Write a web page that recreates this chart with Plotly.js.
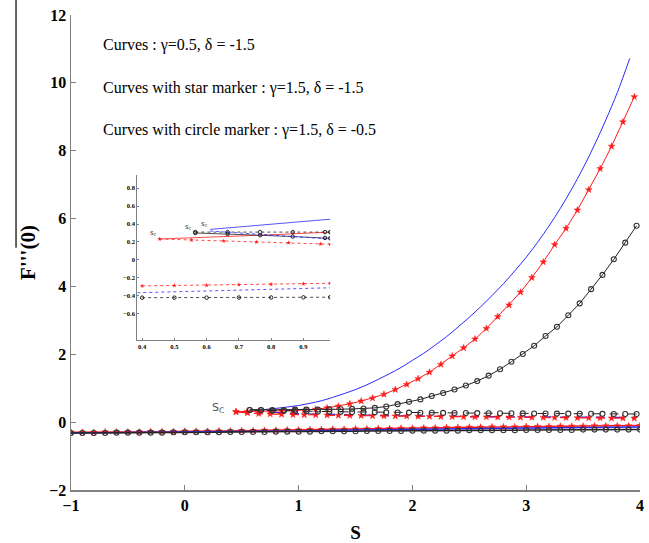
<!DOCTYPE html>
<html>
<head>
<meta charset="utf-8">
<script src="https://cdn.plot.ly/plotly-3.0.1.min.js"></script>
<style>html,body{margin:0;padding:0;background:#fff}</style>
</head>
<body>
<div id="chart" style="width:649px;height:543px"></div>
<script>
// ---------- main chart data ----------
const blueUpperS = [0.61, 0.7, 0.8, 0.9, 1.0, 1.1, 1.2, 1.3, 1.4, 1.5, 1.6, 1.7, 1.8, 1.9, 2.0, 2.1, 2.2, 2.3, 2.4, 2.5, 2.6, 2.7, 2.8, 2.9, 3.0, 3.1, 3.2, 3.3, 3.4, 3.5, 3.6, 3.7, 3.8, 3.91];
const blueUpperF = [0.35, 0.37, 0.405, 0.445, 0.49, 0.555, 0.63, 0.73, 0.84, 0.96, 1.10, 1.26, 1.43, 1.61, 1.82, 2.03, 2.27, 2.52, 2.80, 3.09, 3.40, 3.73, 4.08, 4.46, 4.86, 5.30, 5.78, 6.30, 6.87, 7.49, 8.17, 8.91, 9.71, 10.72];

const blueLowerS = [0.61, 0.8, 1.0, 1.5, 2.0, 2.5, 3.0, 3.5, 3.97];
const blueLowerF = [0.35, 0.29, 0.25, 0.21, 0.18, 0.165, 0.155, 0.145, 0.14];

const redUpperS = [0.45, 0.55, 0.65, 0.75, 0.85, 0.95, 1.05, 1.15, 1.25, 1.35, 1.45, 1.55, 1.65, 1.75, 1.85, 1.95, 2.05, 2.15, 2.25, 2.35, 2.45, 2.55, 2.65, 2.75, 2.85, 2.95, 3.05, 3.15, 3.25, 3.35, 3.45, 3.55, 3.65, 3.75, 3.85, 3.95];
const redUpperF = [0.31, 0.31, 0.32, 0.32, 0.33, 0.34, 0.35, 0.38, 0.42, 0.47, 0.54, 0.62, 0.71, 0.82, 0.96, 1.11, 1.28, 1.47, 1.70, 1.95, 2.19, 2.45, 2.76, 3.11, 3.45, 3.83, 4.26, 4.72, 5.23, 5.71, 6.25, 6.85, 7.47, 8.13, 8.85, 9.59];

const redLowerS = [0.45, 0.55, 0.65, 0.75, 0.85, 0.95, 1.05, 1.15, 1.25, 1.35, 1.45, 1.55, 1.65, 1.75, 1.85, 1.95, 2.05, 2.15, 2.25, 2.35, 2.45, 2.55, 2.65, 2.75, 2.85, 2.95, 3.05, 3.15, 3.25, 3.35, 3.45, 3.55, 3.65, 3.75, 3.85, 3.95];
const redLowerF = [0.30, 0.27, 0.25, 0.24, 0.23, 0.22, 0.215, 0.21, 0.205, 0.20, 0.195, 0.19, 0.185, 0.18, 0.178, 0.175, 0.17, 0.167, 0.164, 0.16, 0.157, 0.154, 0.151, 0.148, 0.145, 0.142, 0.14, 0.137, 0.134, 0.131, 0.128, 0.125, 0.122, 0.119, 0.116, 0.113];

const blackUpperS = [0.57, 0.67, 0.77, 0.87, 0.97, 1.07, 1.17, 1.27, 1.37, 1.47, 1.57, 1.67, 1.77, 1.87, 1.97, 2.07, 2.17, 2.27, 2.37, 2.47, 2.57, 2.67, 2.77, 2.87, 2.97, 3.07, 3.17, 3.27, 3.37, 3.47, 3.57, 3.67, 3.77, 3.87, 3.97];
const blackUpperF = [0.36, 0.36, 0.36, 0.36, 0.37, 0.37, 0.37, 0.38, 0.38, 0.39, 0.40, 0.42, 0.46, 0.53, 0.60, 0.67, 0.77, 0.86, 0.96, 1.08, 1.21, 1.37, 1.56, 1.78, 2.01, 2.25, 2.54, 2.81, 3.15, 3.50, 3.92, 4.34, 4.80, 5.29, 5.79];

const blackLowerS = [0.57, 0.67, 0.77, 0.87, 0.97, 1.07, 1.17, 1.27, 1.37, 1.47, 1.57, 1.67, 1.77, 1.87, 1.97, 2.07, 2.17, 2.27, 2.37, 2.47, 2.57, 2.67, 2.77, 2.87, 2.97, 3.07, 3.17, 3.27, 3.37, 3.47, 3.57, 3.67, 3.77, 3.87, 3.97];
const blackLowerF = [0.36, 0.35, 0.34, 0.33, 0.325, 0.32, 0.315, 0.31, 0.305, 0.30, 0.295, 0.29, 0.287, 0.284, 0.281, 0.278, 0.275, 0.272, 0.27, 0.268, 0.266, 0.264, 0.262, 0.26, 0.258, 0.256, 0.254, 0.252, 0.25, 0.248, 0.246, 0.244, 0.242, 0.241, 0.24];

const bottomS = [-1.0, -0.9, -0.8, -0.7, -0.6, -0.5, -0.4, -0.3, -0.2, -0.1, 0.0, 0.1, 0.2, 0.3, 0.4, 0.5, 0.6, 0.7, 0.8, 0.9, 1.0, 1.1, 1.2, 1.3, 1.4, 1.5, 1.6, 1.7, 1.8, 1.9, 2.0, 2.1, 2.2, 2.3, 2.4, 2.5, 2.6, 2.7, 2.8, 2.9, 3.0, 3.1, 3.2, 3.3, 3.4, 3.5, 3.6, 3.7, 3.8, 3.9, 4.0];
const redBottomF = [-0.30, -0.30, -0.30, -0.29, -0.29, -0.29, -0.29, -0.28, -0.28, -0.28, -0.27, -0.27, -0.27, -0.26, -0.26, -0.25, -0.25, -0.24, -0.24, -0.23, -0.23, -0.22, -0.22, -0.21, -0.21, -0.20, -0.20, -0.19, -0.19, -0.18, -0.18, -0.17, -0.17, -0.16, -0.16, -0.15, -0.15, -0.14, -0.14, -0.14, -0.13, -0.13, -0.13, -0.12, -0.12, -0.12, -0.11, -0.11, -0.11, -0.11, -0.10];
const blackBottomF = [-0.32, -0.32, -0.32, -0.32, -0.31, -0.31, -0.31, -0.31, -0.31, -0.30, -0.30, -0.30, -0.30, -0.30, -0.29, -0.29, -0.29, -0.29, -0.28, -0.28, -0.28, -0.28, -0.27, -0.27, -0.27, -0.27, -0.26, -0.26, -0.26, -0.26, -0.25, -0.25, -0.25, -0.25, -0.25, -0.24, -0.24, -0.24, -0.24, -0.24, -0.23, -0.23, -0.23, -0.23, -0.23, -0.22, -0.22, -0.22, -0.22, -0.22, -0.22];
const blueBottomS = [-1.0, -0.5, 0.0, 0.5, 1.0, 1.5, 2.0, 2.5, 3.0, 3.5, 4.0];
const blueBottomF = [-0.32, -0.31, -0.30, -0.28, -0.26, -0.23, -0.21, -0.19, -0.17, -0.155, -0.14];

// ---------- inset data ----------
const iRedUpX = [0.454, 0.6, 0.8, 0.983];
const iRedUpY = [0.233, 0.25, 0.28, 0.31];
const iRedLowX = [0.454, 0.553, 0.653, 0.754, 0.854, 0.953, 0.983];
const iRedLowY = [0.233, 0.222, 0.211, 0.200, 0.190, 0.178, 0.175];
const iBlkUpX = [0.565, 0.665, 0.766, 0.867, 0.967, 0.983];
const iBlkUpY = [0.31, 0.31, 0.31, 0.31, 0.31, 0.31];
const iBlkLowX = [0.565, 0.665, 0.766, 0.867, 0.967, 0.983];
const iBlkLowY = [0.30, 0.29, 0.275, 0.26, 0.245, 0.241];
const iBluUpX = [0.611, 0.8, 0.988];
const iBluUpY = [0.34, 0.40, 0.455];
const iBluLowX = [0.611, 0.8, 0.983];
const iBluLowY = [0.322, 0.28, 0.233];
const iRedBotX = [0.4, 0.5, 0.6, 0.7, 0.8, 0.9, 0.983];
const iRedBotY = [-0.289, -0.284, -0.281, -0.275, -0.271, -0.265, -0.26];
const iBluBotX = [0.385, 0.983];
const iBluBotY = [-0.365, -0.31];
const iBlkBotX = [0.4, 0.5, 0.6, 0.7, 0.8, 0.9, 0.983];
const iBlkBotY = [-0.42, -0.42, -0.42, -0.418, -0.418, -0.416, -0.415];

const xTicks = [-1, 0, 1, 2, 3, 4];
const yTicks = [-2, 0, 2, 4, 6, 8, 10, 12];
const ixTicks = [0.4, 0.5, 0.6, 0.7, 0.8, 0.9];
const iyTicks = [-0.6, -0.4, -0.2, 0, 0.2, 0.4, 0.6, 0.8];

const BLUE = '#2a2aff', RED = '#ff1a1a', BLK = '#222222';
const star = c => ({symbol: 'star', size: 5, color: c, line: {width: 0.5, color: c}});
const circ = {symbol: 'circle-open', size: 5, color: '#333', line: {width: 1.1, color: '#333'}};

const traces = [
  {x: blueUpperS, y: blueUpperF, mode: 'lines', line: {color: BLUE, width: 1, shape: 'spline'}},
  {x: blueLowerS, y: blueLowerF, mode: 'lines', line: {color: BLUE, width: 1.2, dash: 'dash'}},
  {x: redUpperS, y: redUpperF, mode: 'lines+markers', line: {color: RED, width: 1}, marker: star(RED)},
  {x: redLowerS, y: redLowerF, mode: 'lines+markers', line: {color: RED, width: 1.2, dash: 'dash'}, marker: star(RED)},
  {x: blackUpperS, y: blackUpperF, mode: 'lines+markers', line: {color: BLK, width: 1}, marker: circ},
  {x: blackLowerS, y: blackLowerF, mode: 'lines+markers', line: {color: BLK, width: 1, dash: 'dash'}, marker: circ},
  {x: bottomS, y: redBottomF, mode: 'lines+markers', line: {color: RED, width: 1.5}, marker: star(RED)},
  {x: blueBottomS, y: blueBottomF, mode: 'lines', line: {color: BLUE, width: 1.5}},
  {x: bottomS, y: blackBottomF, mode: 'lines+markers', line: {color: BLK, width: 1.5}, marker: circ},
  // inset
  {x: iRedUpX, y: iRedUpY, xaxis: 'x2', yaxis: 'y2', mode: 'lines', line: {color: RED, width: 0.8}},
  {x: iRedLowX, y: iRedLowY, xaxis: 'x2', yaxis: 'y2', mode: 'lines+markers', line: {color: RED, width: 0.8, dash: 'dot'}, marker: {symbol: 'star', size: 3.5, color: RED}},
  {x: iBlkUpX, y: iBlkUpY, xaxis: 'x2', yaxis: 'y2', mode: 'lines+markers', line: {color: BLK, width: 0.8, dash: 'dot'}, marker: {symbol: 'circle-open', size: 3.5, color: BLK, line: {width: 1}}},
  {x: iBlkLowX, y: iBlkLowY, xaxis: 'x2', yaxis: 'y2', mode: 'lines+markers', line: {color: BLK, width: 0.8}, marker: {symbol: 'circle-open', size: 3.5, color: BLK, line: {width: 1}}},
  {x: iBluUpX, y: iBluUpY, xaxis: 'x2', yaxis: 'y2', mode: 'lines', line: {color: BLUE, width: 0.8}},
  {x: iBluLowX, y: iBluLowY, xaxis: 'x2', yaxis: 'y2', mode: 'lines', line: {color: BLUE, width: 0.8, dash: 'dot'}},
  {x: iRedBotX, y: iRedBotY, xaxis: 'x2', yaxis: 'y2', mode: 'lines+markers', line: {color: RED, width: 0.8, dash: 'dot'}, marker: {symbol: 'star', size: 3.5, color: RED}},
  {x: iBluBotX, y: iBluBotY, xaxis: 'x2', yaxis: 'y2', mode: 'lines', line: {color: BLUE, width: 0.8, dash: 'dot'}},
  {x: iBlkBotX, y: iBlkBotY, xaxis: 'x2', yaxis: 'y2', mode: 'lines+markers', line: {color: BLK, width: 0.8, dash: 'dot'}, marker: {symbol: 'circle-open', size: 3.5, color: BLK, line: {width: 1}}}
];

const serif = 'Liberation Serif, Times New Roman, serif';
const textFont = {family: serif, size: 16, color: '#000'};
const layout = {
  width: 649, height: 543,
  margin: {l: 71, r: 9, t: 15, b: 53},
  paper_bgcolor: '#fff', plot_bgcolor: 'rgba(0,0,0,0)',
  showlegend: false,
  xaxis: {
    range: [-1, 4], tickvals: xTicks, ticks: 'inside', ticklen: 5, tickcolor: '#808080',
    showline: true, linecolor: '#808080', linewidth: 1.5, showgrid: false, zeroline: false,
    tickfont: {family: serif, size: 16, color: '#000', weight: 'bold'},
    title: {text: 'S', font: {family: serif, size: 19, color: '#000', weight: 'bold'}, standoff: 16}
  },
  yaxis: {
    range: [-2, 12], tickvals: yTicks, ticks: 'inside', ticklen: 5, tickcolor: '#808080',
    showline: true, linecolor: '#808080', linewidth: 1.5, showgrid: false, zeroline: false,
    tickfont: {family: serif, size: 16, color: '#000', weight: 'bold'},
    title: {text: "F'''(0)", font: {family: serif, size: 21, color: '#000', weight: 'bold'}, standoff: 8}
  },
  xaxis2: {
    domain: [0.1165, 0.4555], anchor: 'y2', range: [0.385, 0.983], tickvals: ixTicks,
    ticks: 'inside', ticklen: 2, tickcolor: '#808080',
    showline: true, linecolor: '#808080', linewidth: 1, showgrid: false, zeroline: false,
    tickfont: {family: serif, size: 6.5, color: '#000', weight: 'bold'}
  },
  yaxis2: {
    domain: [0.316, 0.664], anchor: 'x2', range: [-0.89, 0.95], tickvals: iyTicks,
    ticks: 'inside', ticklen: 2, tickcolor: '#808080',
    showline: true, linecolor: '#808080', linewidth: 1, showgrid: false, zeroline: false,
    tickfont: {family: serif, size: 6.5, color: '#000', weight: 'bold'}
  },
  shapes: [
    {type: 'line', xref: 'paper', yref: 'paper', x0: -0.0966, x1: -0.0966, y0: 0.51, y1: 1.04, line: {color: '#333', width: 1.5}}
  ],
  annotations: [
    {xref: 'paper', yref: 'paper', x: 0.0527, y: 0.937, xanchor: 'left', yanchor: 'middle', showarrow: false, text: 'Curves : γ=0.5, δ = -1.5', font: textFont},
    {xref: 'paper', yref: 'paper', x: 0.0527, y: 0.846, xanchor: 'left', yanchor: 'middle', showarrow: false, text: 'Curves with star marker : γ=1.5, δ = -1.5', font: textFont},
    {xref: 'paper', yref: 'paper', x: 0.0527, y: 0.758, xanchor: 'left', yanchor: 'middle', showarrow: false, text: 'Curves with circle marker : γ=1.5, δ = -0.5', font: textFont},
    {xref: 'x', yref: 'y', x: 0.36, y: 0.42, xanchor: 'right', yanchor: 'middle', showarrow: false, text: 'S<sub>C</sub>', font: {family: 'DejaVu Sans, sans-serif', size: 11, color: '#555'}},
    {xref: 'x2', yref: 'y2', x: 0.452, y: 0.30, xanchor: 'right', yanchor: 'middle', showarrow: false, text: 's<sub>c</sub>', font: {family: 'DejaVu Sans, sans-serif', size: 7, color: '#333'}},
    {xref: 'x2', yref: 'y2', x: 0.562, y: 0.37, xanchor: 'right', yanchor: 'middle', showarrow: false, text: 's<sub>c</sub>', font: {family: 'DejaVu Sans, sans-serif', size: 7, color: '#333'}},
    {xref: 'x2', yref: 'y2', x: 0.610, y: 0.40, xanchor: 'right', yanchor: 'middle', showarrow: false, text: 's<sub>c</sub>', font: {family: 'DejaVu Sans, sans-serif', size: 7, color: '#333'}}
  ]
};

Plotly.newPlot('chart', traces, layout, {staticPlot: true, displayModeBar: false});
</script>
</body>
</html>
